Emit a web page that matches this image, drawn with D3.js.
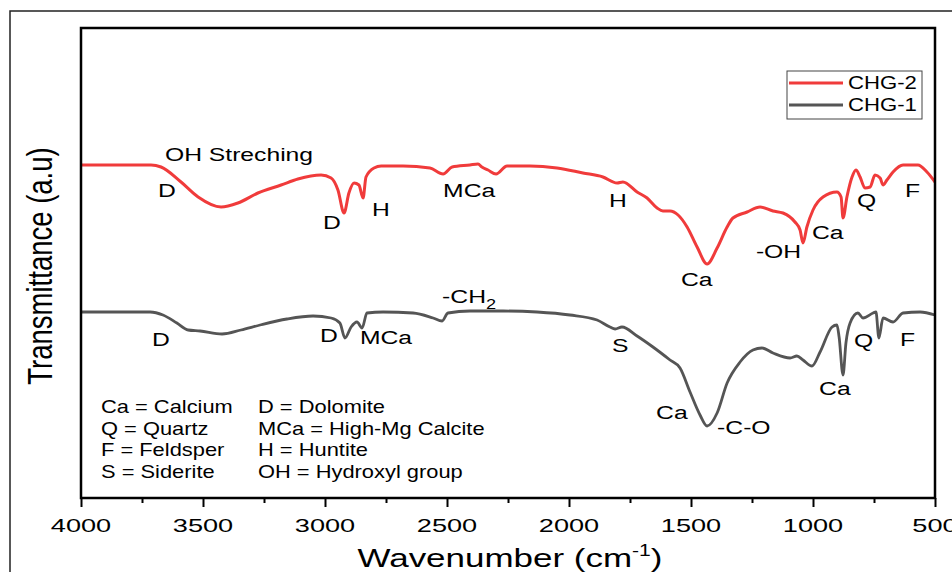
<!DOCTYPE html>
<html>
<head>
<meta charset="utf-8">
<script src="https://cdn.jsdelivr.net/npm/d3@7"></script>
<style>
  html, body { margin: 0; padding: 0; background: #fff; }
  svg { display: block; }
  text { font-family: "Liberation Sans", Arial, sans-serif; fill: #000; }
</style>
</head>
<body>
<svg id="chart" width="952" height="572"></svg>
<script>
// wavenumber (cm-1), transmittance (a.u., offset)
const chg2 = [
  [4000, 33.3], [3713, 33.3], [3672, 33.1], [3590, 31.6], [3520, 30.1], [3426, 29.1],
  [3357, 29.5], [3275, 30.5], [3180, 31.3], [3111, 31.9], [3016, 32.3], [2975, 32.0],
  [2947, 30.8], [2922, 28.5], [2902, 30.5], [2881, 31.5], [2861, 31.3], [2844, 30.0],
  [2832, 32.1], [2799, 33.0], [2770, 33.2], [2680, 33.2], [2570, 33.0], [2516, 32.4],
  [2479, 33.1], [2406, 33.3], [2373, 33.4], [2357, 33.1], [2332, 32.8], [2299, 32.4],
  [2254, 33.2], [2160, 33.2], [2049, 33.0], [1943, 32.5], [1861, 32.1], [1803, 31.5],
  [1779, 31.6], [1721, 30.6], [1680, 30.0], [1639, 29.0], [1615, 28.7], [1586, 28.7],
  [1553, 28.3], [1516, 27.1], [1475, 25.1], [1434, 23.4], [1393, 25.0], [1352, 27.1],
  [1328, 28.0], [1270, 28.6], [1217, 29.1], [1164, 28.7], [1123, 28.5], [1074, 27.6],
  [1053, 26.8], [1041, 25.5], [1025, 27.1], [1000, 28.8], [959, 30.1], [902, 30.6],
  [885, 30.1], [877, 28.0], [861, 30.1], [840, 32.1], [824, 32.8], [807, 32.1],
  [787, 31.0], [766, 31.1], [746, 32.3], [725, 32.0], [713, 31.3], [697, 31.8],
  [672, 32.6], [631, 33.3], [570, 33.3], [533, 32.6], [500, 31.6]
];

const chg1 = [
  [4000, 18.6], [3717, 18.6], [3664, 18.3], [3607, 17.5], [3561, 16.8], [3512, 16.7],
  [3422, 16.4], [3344, 16.8], [3266, 17.3], [3156, 17.9], [3049, 18.2], [2975, 18.0],
  [2939, 17.5], [2918, 16.0], [2893, 17.1], [2869, 17.6], [2848, 17.0], [2828, 18.5],
  [2762, 18.6], [2639, 18.5], [2557, 18.0], [2520, 17.7], [2496, 18.5], [2406, 18.7],
  [2270, 18.7], [2131, 18.6], [1996, 18.3], [1885, 17.8], [1832, 17.1], [1811, 16.9],
  [1783, 17.1], [1721, 16.2], [1656, 15.1], [1586, 13.8], [1545, 13.0], [1504, 10.6],
  [1463, 8.3], [1434, 7.2], [1393, 8.5], [1352, 11.5], [1299, 13.6], [1246, 14.8],
  [1209, 15.0], [1164, 14.5], [1094, 14.0], [1066, 14.2], [1041, 13.8], [1004, 13.2],
  [971, 14.6], [922, 17.1], [902, 17.3], [893, 16.1], [877, 12.3], [865, 15.5],
  [848, 17.5], [816, 18.5], [795, 18.0], [754, 18.5], [742, 18.6], [730, 16.0],
  [713, 18.0], [672, 17.6], [631, 18.5], [561, 18.6], [500, 18.3]
];

const xTicks = [4000, 3500, 3000, 2500, 2000, 1500, 1000, 500];
const xMinorTicks = [3750, 3250, 2750, 2250, 1750, 1250, 750];

const seriesNames = ["CHG-2", "CHG-1"];

// peak labels: [text, wavenumber, transmittance]
const chg2Labels = [
  ["OH Streching", 3656, 33.7], ["D", 3684, 30.1], ["D", 3008, 26.9], ["H", 2807, 28.2],
  ["MCa", 2516, 30.1], ["H", 1836, 29.1], ["Ca", 1541, 21.2], ["-OH", 1234, 24.0],
  ["Ca", 1004, 25.9], ["Q", 820, 29.1], ["F", 623, 30.1]
];
const chg1Labels = [
  ["D", 3709, 15.2], ["D", 3020, 15.6], ["MCa", 2857, 15.4], ["S", 1824, 14.6],
  ["Ca", 1643, 7.9], ["-C-O", 1393, 6.4], ["Ca", 975, 10.3], ["Q", 832, 15.1], ["F", 643, 15.2]
];

const keyCol1 = ["Ca = Calcium", "Q  = Quartz", "F  = Feldsper", "S = Siderite"];
const keyCol2 = ["D = Dolomite", "MCa = High-Mg Calcite", "H = Huntite", "OH = Hydroxyl group"];

const svg = d3.select('#chart');
const plot = { left: 81, top: 28, right: 935, bottom: 498 };

const x = d3.scaleLinear().domain([4000, 500]).range([plot.left, plot.right]);
const y = d3.scaleLinear().domain([0, 47]).range([plot.bottom, plot.top]);

// stretched text helper (the reference glyphs are wide)
function putText(parent, str, px, py, size, sx, anchor) {
  return parent.append('text')
    .attr('transform', `translate(${px},${py}) scale(${sx},1)`)
    .attr('font-size', size)
    .attr('text-anchor', anchor || 'start')
    .text(str);
}

// outer frame
svg.append('rect')
  .attr('x', 10).attr('y', 11)
  .attr('width', 1000).attr('height', 700)
  .attr('fill', 'none').attr('stroke', '#222').attr('stroke-width', 1.5);

// curves
const line = d3.line()
  .x(d => x(d[0]))
  .y(d => y(d[1]))
  .curve(d3.curveMonotoneX);

svg.append('path').datum(chg1)
  .attr('d', line)
  .attr('fill', 'none').attr('stroke', '#555555')
  .attr('stroke-width', 2.8).attr('stroke-linejoin', 'round');

svg.append('path').datum(chg2)
  .attr('d', line)
  .attr('fill', 'none').attr('stroke', '#f03b3b')
  .attr('stroke-width', 3).attr('stroke-linejoin', 'round');

// plot frame
svg.append('rect')
  .attr('x', plot.left).attr('y', plot.top)
  .attr('width', plot.right - plot.left).attr('height', plot.bottom - plot.top)
  .attr('fill', 'none').attr('stroke', '#000').attr('stroke-width', 2.5);

// x axis
const axis = svg.append('g').attr('transform', `translate(0,${plot.bottom})`);
axis.call(d3.axisBottom(x).tickValues(xMinorTicks).tickSize(5).tickFormat(''))
  .call(g => g.select('.domain').remove())
  .call(g => g.selectAll('line').attr('stroke', '#000').attr('stroke-width', 2));
const major = svg.append('g').attr('transform', `translate(0,${plot.bottom})`);
major.call(d3.axisBottom(x).tickValues(xTicks).tickSize(9).tickFormat(''))
  .call(g => g.select('.domain').remove())
  .call(g => g.selectAll('line').attr('stroke', '#000').attr('stroke-width', 2));

xTicks.forEach(t => putText(svg, String(t), x(t), 532, 19, 1.43, 'middle'));

// axis titles
const xt = svg.append('text')
  .attr('transform', `translate(510,567) scale(1.32,1)`)
  .attr('font-size', 26.5).attr('text-anchor', 'middle');
xt.append('tspan').text('Wavenumber (cm');
xt.append('tspan').attr('font-size', 16).attr('dy', -11).text('-1');
xt.append('tspan').attr('dy', 11).text(')');

svg.append('text')
  .attr('transform', `translate(52,266) scale(1.27,1) rotate(-90)`)
  .attr('font-size', 27.5).attr('text-anchor', 'middle')
  .text('Transmittance (a.u)');

// peak labels
const labels = svg.append('g');
chg2Labels.concat(chg1Labels).forEach(([t, wn, v]) => {
  putText(labels, t, x(wn), y(v), 19, 1.3);
});
const ch = labels.append('text')
  .attr('transform', `translate(${x(2520)},${y(19.5)}) scale(1.3,1)`)
  .attr('font-size', 19);
ch.append('tspan').text('-CH');
ch.append('tspan').attr('font-size', 14).attr('dy', 6).text('2');

// abbreviation key
keyCol1.forEach((t, i) => putText(svg, t, 101, 413 + i * 21.6, 17.5, 1.25));
keyCol2.forEach((t, i) => putText(svg, t, 258, 413 + i * 21.6, 17.5, 1.25));

// legend
const lg = svg.append('g');
lg.append('rect')
  .attr('x', 787).attr('y', 71).attr('width', 135).attr('height', 48)
  .attr('fill', '#fff').attr('stroke', '#444').attr('stroke-width', 1);
const legendColors = ['#f03b3b', '#555555'];
seriesNames.forEach((name, i) => {
  const ly = 83 + i * 22;
  lg.append('line')
    .attr('x1', 789).attr('x2', 843).attr('y1', ly).attr('y2', ly)
    .attr('stroke', legendColors[i]).attr('stroke-width', 3);
  putText(lg, name, 848, ly + 6, 18, 1.23);
});
</script>
</body>
</html>
